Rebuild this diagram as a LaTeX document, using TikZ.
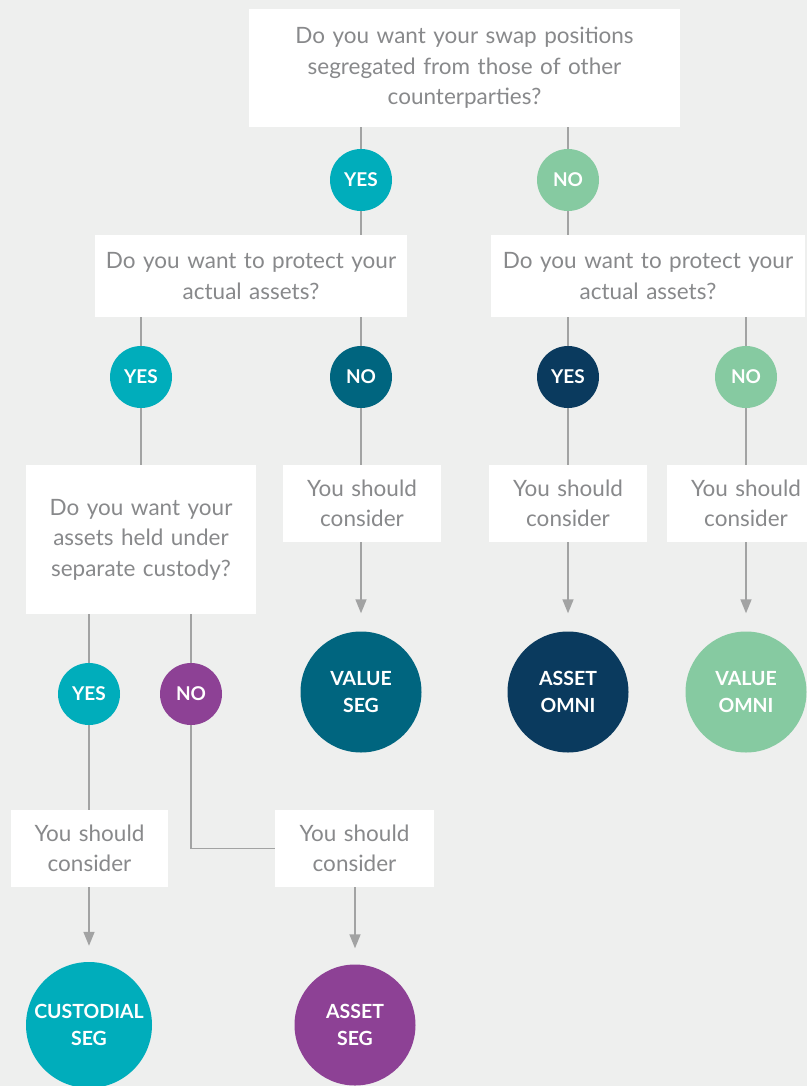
\documentclass[tikz,border=0pt]{standalone}
\usepackage{fontspec}
\setmainfont{Lato}
\usetikzlibrary{arrows.meta}
\definecolor{bg}{HTML}{EEEFEE}
\definecolor{txt}{HTML}{88898B}
\definecolor{ln}{HTML}{A2A3A3}
\definecolor{teal}{HTML}{00ADBB}
\definecolor{lgreen}{HTML}{86CAA1}
\definecolor{dteal}{HTML}{00657F}
\definecolor{navy}{HTML}{0A3A5E}
\definecolor{purp}{HTML}{8D4195}
\begin{document}
\begin{tikzpicture}[x=1pt,y=-1pt,
  qbox/.style={rectangle,fill=white,inner sep=0pt,align=center,text=txt,
    font=\fontsize{22.5}{30.5}\selectfont},
  small/.style={circle,minimum size=62pt,inner sep=0pt,text=white,
    font=\bfseries\fontsize{19}{22}\selectfont},
  big/.style={circle,minimum size=121pt,inner sep=0pt,text=white,align=center,
    font=\bfseries\fontsize{19.5}{27.5}\selectfont},
  conn/.style={draw=ln,line width=1.5pt},
  arr/.style={conn,-{Triangle[length=14pt,width=11pt]},shorten >=18pt},
  arr2/.style={conn,-{Triangle[length=14pt,width=11pt]},shorten >=16pt}]
\fill[bg] (0,0) rectangle (807,1086);
\useasboundingbox (0,0) rectangle (807,1086);
\clip (0,0) rectangle (807,1086);
% boxes
\node[qbox,text width=431pt,minimum height=118pt] (q1) at (464.5,68)
  {Do you want your swap positions\\segregated from those of other\\counterparties?};
\node[qbox,text width=312pt,minimum height=82pt] (q2l) at (251,276)
  {Do you want to protect your\\actual assets?};
\node[qbox,text width=314pt,minimum height=82pt] (q2r) at (648,276)
  {Do you want to protect your\\actual assets?};
\node[qbox,text width=230pt,minimum height=149pt] (q3) at (141,539.5)
  {Do you want your\\assets held under\\separate custody?};
\node[qbox,text width=158pt,minimum height=77pt] (c1) at (362,503.5) {You should\\consider};
\node[qbox,text width=158pt,minimum height=77pt] (c2) at (568,503.5) {You should\\consider};
\node[qbox,text width=158pt,minimum height=77pt] (c3) at (746,503.5) {You should\\consider};
\node[qbox,text width=157pt,minimum height=77pt] (c4) at (89.5,848.5) {You should\\consider};
\node[qbox,text width=159pt,minimum height=77pt] (c5) at (354.5,848.5) {You should\\consider};
% small circles
\node[small,fill=teal] (y1) at (361,180) {YES};
\node[small,fill=lgreen] (n1) at (568,180) {NO};
\node[small,fill=teal] (y2) at (141,377) {YES};
\node[small,fill=dteal] (n2) at (361,377) {NO};
\node[small,fill=navy] (y3) at (568,377) {YES};
\node[small,fill=lgreen] (n3) at (746,377) {NO};
\node[small,fill=teal] (y4) at (89,694) {YES};
\node[small,fill=purp] (n4) at (191,694) {NO};
% result circles
\node[big,fill=dteal] (vseg) at (361,692) {VALUE\\SEG};
\node[big,fill=navy] (aomni) at (568,692) {ASSET\\OMNI};
\node[big,fill=lgreen] (vomni) at (746,692) {VALUE\\OMNI};
\node[big,fill=teal,minimum size=126pt] (cseg) at (89,1025) {CUSTODIAL\\SEG};
\node[big,fill=purp] (aseg) at (355,1025) {ASSET\\SEG};
% connectors
\draw[conn] (q1.south -| y1) -- (y1);
\draw[conn] (q1.south -| n1) -- (n1);
\draw[conn] (y1) -- (y1 |- q2l.north);
\draw[conn] (n1) -- (n1 |- q2r.north);
\draw[conn] (q2l.south -| y2) -- (y2);
\draw[conn] (q2l.south -| n2) -- (n2);
\draw[conn] (q2r.south -| y3) -- (y3);
\draw[conn] (q2r.south -| n3) -- (n3);
\draw[conn] (y2) -- (y2 |- q3.north);
\draw[conn] (n2) -- (n2 |- c1.north);
\draw[conn] (y3) -- (y3 |- c2.north);
\draw[conn] (n3) -- (n3 |- c3.north);
\draw[conn] (q3.south -| y4) -- (y4);
\draw[conn] (q3.south -| n4) -- (n4);
\draw[conn] (y4) -- (y4 |- c4.north);
\draw[conn] (n4) -- (n4 |- c5.west) -- (c5.west);
\draw[arr] (c1.south -| vseg) -- (vseg);
\draw[arr] (c2.south -| aomni) -- (aomni);
\draw[arr] (c3.south -| vomni) -- (vomni);
\draw[arr2] (c4.south -| cseg) -- (cseg);
\draw[arr2] (c5.south -| aseg) -- (aseg);
\end{tikzpicture}
\end{document}
